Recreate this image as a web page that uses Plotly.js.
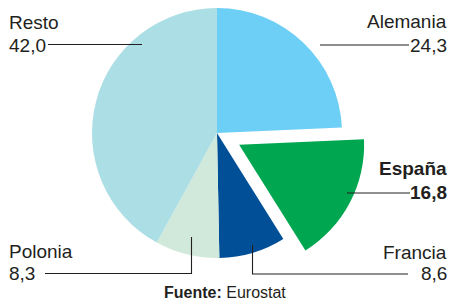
<!DOCTYPE html>
<html>
<head>
<meta charset="utf-8">
<script src="https://cdn.plot.ly/plotly-3.0.1.min.js"></script>
<style>
html,body{margin:0;padding:0;overflow:hidden;background:#fff;width:451px;height:304px;}
#chart{position:absolute;left:0;top:-20px;width:451px;height:324px;}
</style>
</head>
<body>
<div id="chart"></div>
<script>
// Data
var countries = ["Alemania", "España", "Francia", "Polonia", "Resto"];
var shares = [24.3, 16.8, 8.6, 8.3, 42.0];
var valueLabels = ["24,3", "16,8", "8,6", "8,3", "42,0"];
var sliceColors = ["#6dcff6", "#00a650", "#004f97", "#d1e9da", "#acdee5"];
var pulls = [0, 0.2, 0, 0, 0];

// Geometry helpers: page pixel -> paper coordinates (div is offset 20px up, 324px tall)
var W = 451, H = 324, OFF = 20;
function px(x){ return x / W; }
function py(y){ return 1 - (y + OFF) / H; }

var txtColor = "#231f20";
var font = "Liberation Sans, Arial, sans-serif";
var fs = 19;

function ann(text, x, y, anchor, bold){
  return {
    text: bold ? "<b>" + text + "</b>" : text,
    xref: "paper", yref: "paper",
    x: px(x), y: py(y),
    xanchor: anchor, yanchor: "middle",
    showarrow: false,
    font: {family: font, size: fs, color: txtColor}
  };
}
// label placement (layout)
var labelPos = {
  "Alemania": {x: 449, y1: 21, y2: 45, anchor: "right", bold: false},
  "España":   {x: 449, y1: 168, y2: 192, anchor: "right", bold: true},
  "Francia":  {x: 449, y1: 252, y2: 273, anchor: "right", bold: false},
  "Polonia":  {x: 7,   y1: 251, y2: 273, anchor: "left", bold: false},
  "Resto":    {x: 7,   y1: 22,  y2: 45,  anchor: "left", bold: false}
};
var annotations = [];
countries.forEach(function(c, i){
  var p = labelPos[c];
  annotations.push(ann(c, p.x, p.y1, p.anchor, p.bold));
  annotations.push(ann(valueLabels[i], p.x, p.y2, p.anchor, p.bold));
});
annotations.push({
  text: "<b>Fuente:</b> Eurostat",
  xref: "paper", yref: "paper", x: px(225), y: py(292.5),
  xanchor: "center", yanchor: "middle", showarrow: false,
  font: {family: font, size: 16, color: txtColor}
});

function seg(points){
  var d = points.map(function(p, k){ return (k ? "L" : "M") + px(p[0]) + "," + py(p[1]); }).join(" ");
  return {type: "path", xref: "paper", yref: "paper", path: d,
          line: {color: "#231f20", width: 1.1}};
}
var shapes = [
  seg([[48, 44.5], [142, 44.5]]),
  seg([[320, 45], [409, 45]]),
  seg([[347, 193], [410, 193]]),
  seg([[45, 273.5], [191.5, 273.5], [191.5, 237]]),
  seg([[408, 274], [252.5, 274], [252.5, 245]])
];

var trace = {
  type: "pie",
  labels: countries,
  values: shares,
  sort: false,
  direction: "clockwise",
  rotation: 0,
  pull: pulls,
  marker: {colors: sliceColors, line: {width: 0}},
  textinfo: "none",
  hoverinfo: "label+value",
  domain: {x: [px(67), px(367)], y: [1 - 303 / H, 1 - 3 / H]}
};

var layout = {
  width: W, height: H,
  margin: {l: 0, r: 0, t: 0, b: 0},
  paper_bgcolor: "#fff",
  showlegend: false,
  annotations: annotations,
  shapes: shapes
};
Plotly.newPlot("chart", [trace], layout, {displayModeBar: false, staticPlot: true});
</script>
</body>
</html>
